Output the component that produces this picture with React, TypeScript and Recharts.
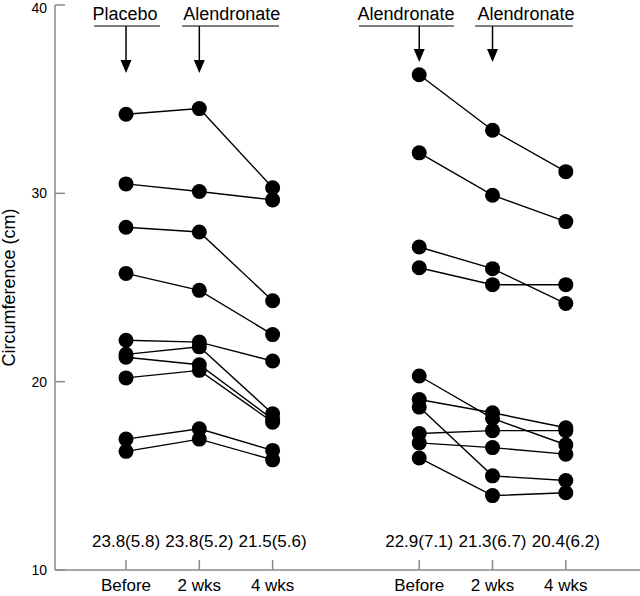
import React from 'react';
import { LineChart, Line, XAxis, YAxis, ReferenceLine, ReferenceDot } from 'recharts';

// x positions of the six time points (two groups separated by a gap)
const xPositions = [1, 2, 3, 5, 6, 7];
const xTickLabels = ['Before', '2 wks', '4 wks', 'Before', '2 wks', '4 wks'];
const yTicks = [10, 20, 30, 40];

// Group 1: Placebo then Alendronate (10 subjects)
const placeboBefore = [34.2, 30.5, 28.2, 25.75, 22.2, 21.45, 21.3, 20.2, 16.95, 16.3];
const placebo2wks = [34.5, 30.1, 27.95, 24.85, 22.1, 21.85, 20.9, 20.6, 17.5, 16.95];
const placebo4wks = [30.3, 29.65, 24.3, 22.5, 21.1, 18.3, 18.0, 17.85, 16.35, 15.85];

// Group 2: Alendronate then Alendronate (10 subjects)
const alendBefore = [36.3, 32.15, 27.15, 26.05, 20.3, 19.05, 18.65, 17.25, 16.75, 15.95];
const alend2wks = [33.35, 29.9, 26.0, 25.15, 18.05, 18.35, 15.0, 17.4, 16.5, 13.95];
const alend4wks = [31.15, 28.5, 24.15, 25.15, 16.65, 17.55, 14.75, 17.4, 16.15, 14.1];

// mean (SD) labels under each time point
const statLabels = ['23.8(5.8)', '23.8(5.2)', '21.5(5.6)', '22.9(7.1)', '21.3(6.7)', '20.4(6.2)'];

// treatment headers with arrows
const headerTexts = ['Placebo', 'Alendronate', 'Alendronate', 'Alendronate'];
const headerArrowX = [1, 2, 5, 6];

// layout of the annotations (in axis units)
const headerTextX = [0.986, 2.442, 4.82, 6.457];
const headerLineSpan: [number, number][] = [
  [0.563, 1.463],
  [1.764, 3.087],
  [4.178, 5.474],
  [5.761, 7.098],
];
const headerTextY = 39.2;
const headerLineY = 38.88;
const arrowTipY = [36.39, 36.39, 36.97, 36.97];
const arrowHeadLen = 13;
const statY = 11.22;

const columns = [placeboBefore, placebo2wks, placebo4wks, alendBefore, alend2wks, alend4wks];
const nSubjects = placeboBefore.length;

const data = xPositions.map((x, i) => {
  const row: Record<string, number> = { x };
  const prefix = i < 3 ? 'p' : 'a';
  columns[i].forEach((v, s) => {
    row[`${prefix}${s}`] = v;
  });
  return row;
});

const FONT = '"Liberation Sans", Arial, Helvetica, sans-serif';
const AXIS_COLOR = '#8a8a8a';

const seriesKeys: string[] = [];
for (let s = 0; s < nSubjects; s++) seriesKeys.push(`p${s}`);
for (let s = 0; s < nSubjects; s++) seriesKeys.push(`a${s}`);

const YLabel = (props: any) => {
  const vb = props.viewBox || {};
  const cx = 15;
  const cy = (vb.y ?? 0) + (vb.height ?? 0) / 2;
  return (
    <text
      x={cx}
      y={cy}
      transform={`rotate(-90, ${cx}, ${cy})`}
      textAnchor="middle"
      fontSize={18}
      fontFamily={FONT}
      fill="#000"
    >
      Circumference (cm)
    </text>
  );
};

// y tick label kept inside the picture (baseline never above the top edge + ascent)
const YTick = (props: any) => {
  const { x, y, payload } = props;
  const baseline = Math.max(y + 5, 13);
  return (
    <text x={x} y={baseline} textAnchor="end" fontSize={14} fontFamily={FONT} fill="#000">
      {payload.value}
    </text>
  );
};

export default function App() {
  return (
    <div style={{ position: 'absolute', left: 0, top: 0, width: 640, height: 596, background: '#fff' }}>
      <LineChart
        width={640}
        height={596}
        data={data}
        margin={{ top: 5, right: 0, bottom: 0, left: 0 }}
      >
        <XAxis
          type="number"
          dataKey="x"
          domain={[0.031, 8.012]}
          allowDataOverflow
          ticks={xPositions}
          tickFormatter={(v: number) => xTickLabels[xPositions.indexOf(v)] ?? ''}
          height={26}
          tickSize={-10}
          tickMargin={19}
          stroke={AXIS_COLOR}
          strokeWidth={1.5}
          tick={{ fill: '#000', fontSize: 17, fontFamily: FONT }}
          interval={0}
        />
        <YAxis
          type="number"
          domain={[10, 40]}
          ticks={yTicks}
          width={55}
          tickSize={-10}
          tickMargin={18}
          stroke={AXIS_COLOR}
          strokeWidth={1.5}
          tick={<YTick />}
          interval={0}
          label={{ content: YLabel }}
        />
        {headerTexts.map((t, i) => (
          <ReferenceLine
            key={`hl${i}`}
            segment={[
              { x: headerLineSpan[i][0], y: headerLineY },
              { x: headerLineSpan[i][1], y: headerLineY },
            ]}
            stroke="#555"
            strokeWidth={1.5}
            ifOverflow="visible"
          />
        ))}
        {headerArrowX.map((ax, i) => (
          <ReferenceLine
            key={`al${i}`}
            segment={[
              { x: ax, y: headerLineY },
              { x: ax, y: arrowTipY[i] + 0.5 },
            ]}
            stroke="#000"
            strokeWidth={1.5}
            ifOverflow="visible"
          />
        ))}
        {headerArrowX.map((ax, i) => (
          <ReferenceDot
            key={`ah${i}`}
            x={ax}
            y={arrowTipY[i]}
            r={1}
            ifOverflow="visible"
            shape={(p: any) => (
              <path
                d={`M ${p.cx - 5.5} ${p.cy - arrowHeadLen} L ${p.cx + 5.5} ${p.cy - arrowHeadLen} L ${p.cx} ${p.cy} Z`}
                fill="#000"
              />
            )}
          />
        ))}
        {headerTexts.map((t, i) => (
          <ReferenceDot
            key={`ht${i}`}
            x={headerTextX[i]}
            y={headerTextY}
            r={1}
            ifOverflow="visible"
            shape={(p: any) => (
              <text x={p.cx} y={p.cy} textAnchor="middle" fontSize={18} fontFamily={FONT} fill="#000">
                {t}
              </text>
            )}
          />
        ))}
        {statLabels.map((t, i) => (
          <ReferenceDot
            key={`st${i}`}
            x={xPositions[i]}
            y={statY}
            r={1}
            ifOverflow="visible"
            shape={(p: any) => (
              <text x={p.cx} y={p.cy} textAnchor="middle" fontSize={17} fontFamily={FONT} fill="#000">
                {t}
              </text>
            )}
          />
        ))}
        {seriesKeys.map((k) => (
          <Line
            key={k}
            dataKey={k}
            type="linear"
            stroke="#000"
            strokeWidth={1.4}
            dot={{ r: 7.5, fill: '#000', stroke: '#000', strokeWidth: 0 }}
            activeDot={false}
            connectNulls={false}
            isAnimationActive={false}
          />
        ))}
      </LineChart>
    </div>
  );
}
